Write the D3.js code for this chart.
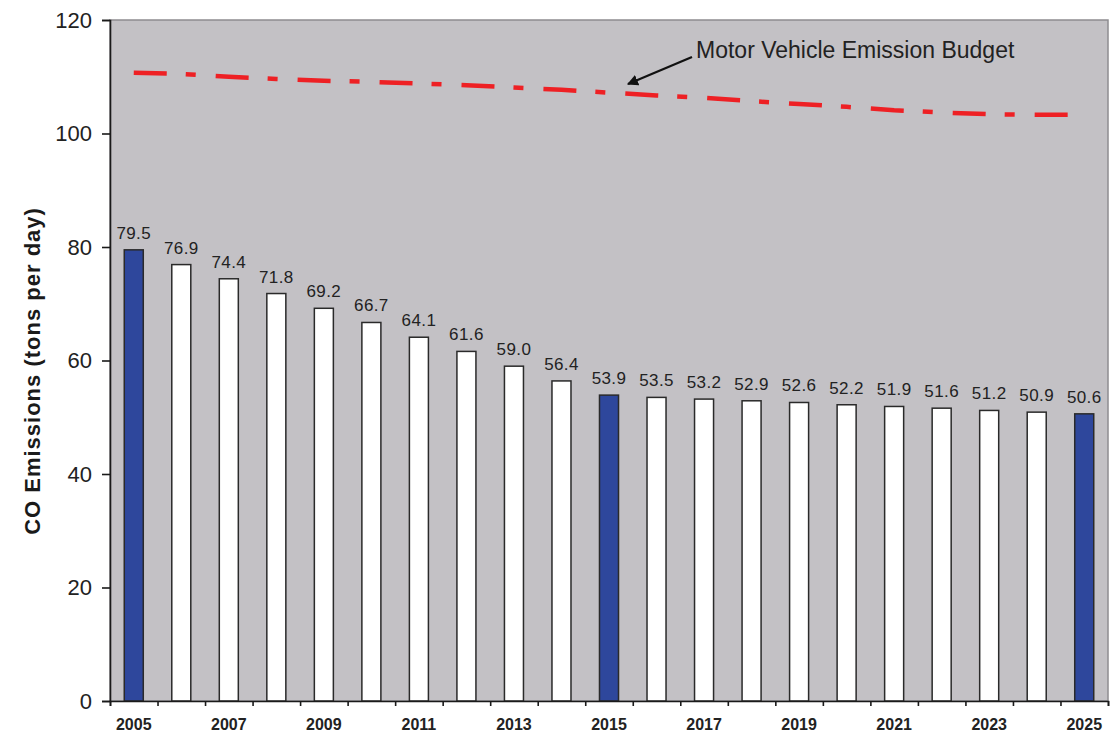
<!DOCTYPE html>
<html lang="en">

<head>
    <meta charset="UTF-8">
    <title>CO Emissions</title>
    <style>
    body {
        margin: 0;
        background: #fff;
    }

    .axis text {
        font-family: "Liberation Sans", Arial, sans-serif;
        fill: #222;
    }

    .bar_label {
        font-family: "Liberation Sans", Arial, sans-serif;
        font-size: 17px;
        letter-spacing: 0.4px;
        fill: #222;
        text-anchor: middle;
    }
    </style>
</head>

<body>
    <svg id="chart" width="1111" height="735"></svg>
    <script src="https://d3js.org/d3.v7.min.js"></script>
    <script type="text/javascript">
    var years = [2005, 2006, 2007, 2008, 2009, 2010, 2011, 2012, 2013, 2014, 2015,
        2016, 2017, 2018, 2019, 2020, 2021, 2022, 2023, 2024, 2025];

    var emissions = [79.5, 76.9, 74.4, 71.8, 69.2, 66.7, 64.1, 61.6, 59.0, 56.4, 53.9,
        53.5, 53.2, 52.9, 52.6, 52.2, 51.9, 51.6, 51.2, 50.9, 50.6];

    // budget line
    var budget = [110.7, 110.5, 110.0, 109.6, 109.3, 109.1, 108.8, 108.5, 108.1, 107.7, 107.2,
        106.7, 106.3, 105.7, 105.2, 104.7, 104.1, 103.7, 103.4, 103.3, 103.3];

    var highlightYears = [2005, 2015, 2025];
    var labelYears = [2005, 2007, 2009, 2011, 2013, 2015, 2017, 2019, 2021, 2023, 2025];
    var yTicks = [0, 20, 40, 60, 80, 100, 120];

    var svg = d3.select("#chart"),
        margin = { top: 20, right: 3, bottom: 34, left: 110 },
        width = svg.attr("width") - margin.left - margin.right,
        height = svg.attr("height") - margin.top - margin.bottom,
        g = svg.append("g").attr("transform", "translate(" + margin.left + "," + margin.top + ")");

    var x = d3.scaleBand().domain(years).range([0, width]).paddingInner(0.6).paddingOuter(0.3),
        xEdge = d3.scaleLinear().domain([0, years.length]).range([0, width]),
        y = d3.scaleLinear().domain([0, 120]).range([height, 0]);

    var data = years.map(function(d, i) {
        return { year: d, value: emissions[i], budget: budget[i] };
    });

    // plot background
    g.append("rect")
        .attr("width", width)
        .attr("height", height)
        .attr("fill", "#c3c1c5")
        .attr("stroke", "#8e8c90")
        .attr("stroke-width", 1.5);

    // bars
    g.selectAll(".bar")
        .data(data)
        .enter().append("rect")
        .attr("class", "bar")
        .attr("x", function(d) { return x(d.year); })
        .attr("y", function(d) { return y(d.value); })
        .attr("width", x.bandwidth())
        .attr("height", function(d) { return height - y(d.value); })
        .attr("fill", function(d) { return highlightYears.indexOf(d.year) > -1 ? "#2e479c" : "#ffffff"; })
        .attr("stroke", "#2a2a2a")
        .attr("stroke-width", 1.5);

    g.selectAll(".bar_label")
        .data(data)
        .enter().append("text")
        .attr("class", "bar_label")
        .attr("x", function(d) { return x(d.year) + x.bandwidth() / 2; })
        .attr("y", function(d) { return y(d.value) - 11; })
        .text(function(d) { return d3.format(".1f")(d.value); });

    // budget line
    var line = d3.line()
        .x(function(d) { return x(d.year) + x.bandwidth() / 2; })
        .y(function(d) { return y(d.budget); });

    g.append("path")
        .datum(data)
        .attr("d", line)
        .attr("fill", "none")
        .attr("stroke", "#ee2024")
        .attr("stroke-width", 4.5)
        .attr("stroke-dasharray", "33,19,10,20");

    // axes
    var yAxis = g.append("g")
        .attr("class", "axis")
        .call(d3.axisLeft(y).tickValues(yTicks).tickSize(8).tickPadding(10));
    yAxis.selectAll("text").style("font-size", "22px");

    var xTicks = g.append("g")
        .attr("class", "axis")
        .attr("transform", "translate(0," + height + ")")
        .call(d3.axisBottom(xEdge).tickValues(d3.range(years.length + 1)).tickSize(5).tickFormat(""));

    var xLabels = g.append("g")
        .attr("class", "axis")
        .attr("transform", "translate(0," + height + ")")
        .call(d3.axisBottom(x).tickValues(labelYears).tickSize(0).tickPadding(18));
    xLabels.select(".domain").remove();
    xLabels.selectAll("text")
        .style("font-size", "16px")
        .style("font-weight", "bold");

    g.selectAll(".axis .domain, .axis line")
        .attr("stroke", "#1a1a1a")
        .attr("stroke-width", 1.6);

    // y title
    svg.append("text")
        .attr("transform", "translate(40,371) rotate(-90)")
        .attr("text-anchor", "middle")
        .style("font-family", "'Liberation Sans', Arial, sans-serif")
        .style("font-size", "22px")
        .style("font-weight", "bold")
        .style("letter-spacing", "1px")
        .attr("fill", "#1a1a1a")
        .text("CO Emissions (tons per day)");

    // annotation
    svg.append("defs").append("marker")
        .attr("id", "arrow")
        .attr("viewBox", "0 0 10 10")
        .attr("refX", 9)
        .attr("refY", 5)
        .attr("markerWidth", 5)
        .attr("markerHeight", 5)
        .attr("orient", "auto")
        .append("path")
        .attr("d", "M0,0L10,5L0,10z")
        .attr("fill", "#111");

    svg.append("line")
        .attr("x1", 692)
        .attr("y1", 57)
        .attr("x2", 628)
        .attr("y2", 84)
        .attr("stroke", "#111")
        .attr("stroke-width", 2.2)
        .attr("marker-end", "url(#arrow)");

    svg.append("text")
        .attr("x", 696)
        .attr("y", 58)
        .style("font-family", "'Liberation Sans', Arial, sans-serif")
        .style("font-size", "23px")
        .attr("fill", "#222")
        .text("Motor Vehicle Emission Budget");
    </script>
</body>

</html>
